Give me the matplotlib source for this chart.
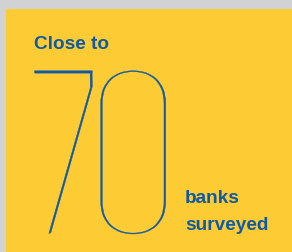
import matplotlib
matplotlib.use('Agg')
import matplotlib.pyplot as plt
import numpy as np
from matplotlib import patheffects
from matplotlib.patches import Rectangle
from matplotlib.path import Path
from matplotlib.transforms import Affine2D

# text content of the tile
lead_text = "Close to"
banks_count = 70
tail_lines = ["banks", "surveyed"]

yellow = '#fdcb33'
blue = '#0f5aa5'
gray = '#d1d2d4'


def fit(path, x0, y0, x1, y1):
    e = path.get_extents()
    tr = (Affine2D().translate(-e.x0, -e.y0)
          .scale((x1 - x0) / e.width, (y1 - y0) / e.height)
          .translate(x0, y0))
    return tr.transform_path(path)


def stretch(path, ysplit, up, down):
    # push segments above ysplit up and below it down, joining them with vertical lines
    verts, codes = [], []
    pen = start = None
    cur = None
    for seg, code in path.iter_segments(curves=True, simplify=False):
        pts = seg.reshape(-1, 2)
        if code == Path.MOVETO:
            pen = start = pts[-1]
            cur = None
            continue
        if code == Path.CLOSEPOLY:
            verts.append(start)
            codes.append(Path.CLOSEPOLY)
            continue
        s = up if np.vstack([pen, pts])[:, 1].mean() >= ysplit else -down
        if cur is None:
            verts.append(pen + (0, s))
            codes.append(Path.MOVETO)
        elif s != cur:
            verts.append(pen + (0, s))
            codes.append(Path.LINETO)
        verts.extend(pts + (0, s))
        codes.extend([code] * len(pts))
        cur = s
        pen = pts[-1]
    return Path(np.array(verts), codes)


class BigDigits(patheffects.AbstractPathEffect):
    # reshapes the "70" glyphs: 7 with a short drop under its bar, 0 as a tall stadium
    def __init__(self, ax, seven_box, zero_box, drop, foot_shift, **kwargs):
        super().__init__()
        self.ax = ax
        self.seven_box = seven_box
        self.zero_box = zero_box
        self.drop = drop
        self.foot_shift = foot_shift
        self._gc = kwargs

    def draw_path(self, renderer, gc, tpath, affine, rgbFace=None):
        p = affine.transform_path(tpath)
        starts = list(np.flatnonzero(p.codes == Path.MOVETO)) + [len(p.codes)]
        parts = [Path(p.vertices[a:b], p.codes[a:b]) for a, b in zip(starts[:-1], starts[1:])]
        mid = p.get_extents().x0 + p.get_extents().width / 2
        left = [c for c in parts if (c.get_extents().x0 + c.get_extents().x1) / 2 < mid]
        right = [c for c in parts if (c.get_extents().x0 + c.get_extents().x1) / 2 >= mid]
        tr = self.ax.transData

        # the 7
        x0, top = tr.transform((self.seven_box[0], self.seven_box[1]))
        x1, bot = tr.transform((self.seven_box[2], self.seven_box[3]))
        drop = top - tr.transform((0, self.seven_box[1] + self.drop))[1]
        seven = fit(Path.make_compound_path(*left), x0, bot + drop, x1, top)
        seven = stretch(seven, top - 8, 0, drop)
        v = seven.vertices.copy()
        v[:, 0] += self.foot_shift * (top - v[:, 1]) / (top - bot)
        seven = Path(v, seven.codes)

        # the 0
        x0, top = tr.transform((self.zero_box[0], self.zero_box[1]))
        x1, bot = tr.transform((self.zero_box[2], self.zero_box[3]))
        w = x1 - x0
        yc = (top + bot) / 2
        zero = fit(Path.make_compound_path(*right), x0, yc - w / 2, x1, yc + w / 2)
        zero = stretch(zero, yc, (top - bot - w) / 2, (top - bot - w) / 2)

        gc0 = renderer.new_gc()
        gc0.copy_properties(gc)
        gc0 = self._update_gc(gc0, self._gc)
        renderer.draw_path(gc0, Path.make_compound_path(seven, zero), Affine2D(), rgbFace)
        gc0.restore()


fig = plt.figure(figsize=(2.92, 2.52), dpi=100)
fig.patch.set_facecolor(gray)
ax = fig.add_axes([0, 0, 1, 1])
ax.set_xlim(0, 292)
ax.set_ylim(252, 0)
ax.axis('off')
ax.add_patch(Rectangle((6, 9), 286, 243, facecolor=yellow, edgecolor='none'))

bold = dict(fontsize=13.7, fontweight='bold', family='Liberation Sans', color=blue)
ax.text(34, 49, lead_text, va='baseline', **bold)

# big hairline number
ax.text(100.5, 152, str(banks_count), fontsize=80, family='Lato', fontweight=100,
        color=blue, ha='center', va='center',
        path_effects=[BigDigits(ax, (34.5, 70.8, 92.3, 233.3), (100.7, 70.7, 165.7, 234),
                                13, 3, linewidth=0.3, foreground=blue)])

for i, line in enumerate(tail_lines):
    ax.text(185, 203 + 26.5 * i, line, va='baseline', **bold)

fig.savefig('out.png', dpi=100, facecolor=fig.get_facecolor())
